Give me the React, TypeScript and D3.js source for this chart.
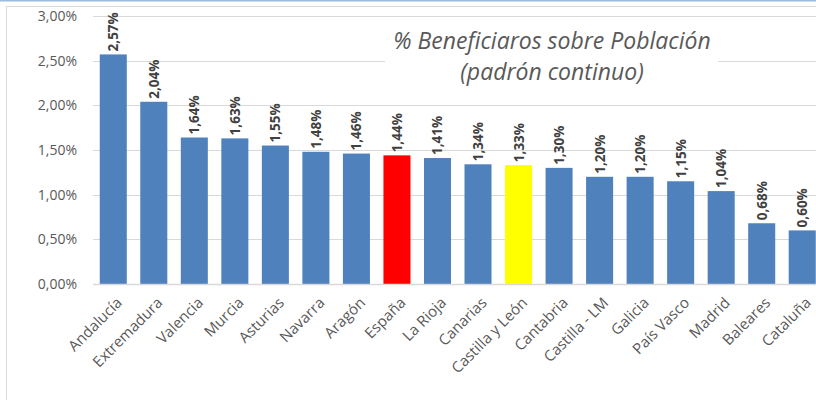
import React from "react";
import * as d3 from "d3";

const categories = [
  "Andalucía", "Extremadura", "Valencia", "Murcia", "Asturias", "Navarra", "Aragón",
  "España", "La Rioja", "Canarias", "Castilla y León", "Cantabria", "Castilla - LM",
  "Galicia", "País Vasco", "Madrid", "Baleares", "Cataluña",
];
const values = [2.57, 2.04, 1.64, 1.63, 1.55, 1.48, 1.46, 1.44, 1.41, 1.34, 1.33, 1.3, 1.2, 1.2, 1.15, 1.04, 0.68, 0.6];
const highlight: Record<string, string> = { "España": "#FF0000", "Castilla y León": "#FFFF00" };
const yTicks = [0, 0.5, 1, 1.5, 2, 2.5, 3];
const titleLines = ["% Beneficiaros sobre Población", "(padrón continuo)"];

const W = 816, H = 400;
const fmt = (v: number) => v.toFixed(2).replace(".", ",") + "%";
const FONT = "'Open Sans', sans-serif";

export default function App() {
  const x = d3.scaleBand<string>().domain(categories).range([93, 822.5]).paddingInner(0.333).paddingOuter(0.1665);
  const y = d3.scaleLinear().domain([0, 3]).range([284, 16]);
  return (
    <svg width={W} height={H} style={{ position: "absolute", left: 0, top: 0, background: "#fff" }}>
      <rect x={0} y={0} width={W} height={H} fill="#fff" />
      <line x1={0} x2={W} y1={0.75} y2={0.75} stroke="#9DBAE0" strokeWidth={1.5} />
      <line x1={6} x2={W} y1={6.5} y2={6.5} stroke="#D9D9D9" strokeWidth={1} />
      <line x1={6.5} x2={6.5} y1={6} y2={H} stroke="#D9D9D9" strokeWidth={1} />
      {yTicks.map((t) => (
        <g key={t}>
          {t > 0 && <line x1={93} x2={W} y1={Math.round(y(t)) + 0.5} y2={Math.round(y(t)) + 0.5} stroke="#D9D9D9" strokeWidth={1} />}
          <text x={77} y={y(t)} dy="0.35em" textAnchor="end" fontFamily={FONT} fontSize={14} fill="#595959">
            {fmt(t)}
          </text>
        </g>
      ))}
      <rect x={385} y={22} width={333} height={66} fill="#fff" />
      {titleLines.map((l, i) => (
        <text key={i} x={552} y={49 + i * 31} textAnchor="middle" fontFamily={FONT} fontStyle="italic" fontSize={23} fill="#595959">
          {l}
        </text>
      ))}
      {categories.map((c, i) => {
        const bx = x(c)!;
        const cx = bx + x.bandwidth() / 2;
        return (
          <g key={c}>
            <rect x={bx} y={y(values[i])} width={x.bandwidth()} height={y(0) - y(values[i])} fill={highlight[c] || "#4F81BD"} />
            <text transform={`translate(${cx + 5},${y(values[i]) - 3}) rotate(-90)`} fontFamily={FONT} fontWeight="bold" fontSize={13.5} fill="#404040">
              {fmt(values[i])}
            </text>
            <text transform={`translate(${cx + 6},${300}) rotate(-45)`} textAnchor="end" dy="0.35em" fontFamily={FONT} fontSize={15} fill="#595959">
              {c}
            </text>
          </g>
        );
      })}
      <line x1={93} x2={W} y1={284.5} y2={284.5} stroke="#D9D9D9" strokeWidth={1.5} />
    </svg>
  );
}
